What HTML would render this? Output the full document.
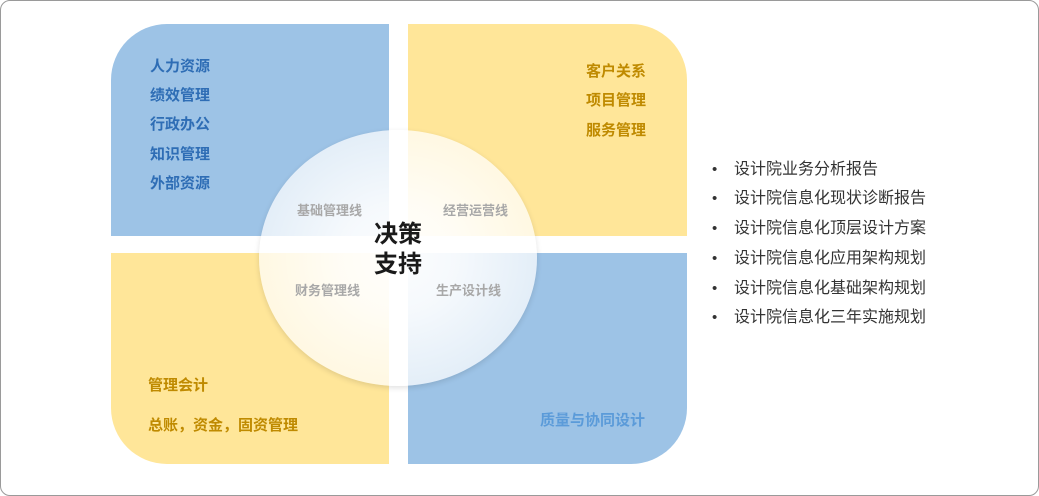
<!DOCTYPE html>
<html><head><meta charset="utf-8"><style>
body{margin:0;width:1039px;height:496px;background:#fff;overflow:hidden;font-family:"Liberation Sans","Noto Sans CJK SC",sans-serif;position:relative}
.frame{position:absolute;left:0;top:0;width:1037px;height:494px;border:1px solid #9a9a9a;border-radius:10px}
.q{position:absolute}
.t{position:absolute;font-weight:bold;font-size:15px;white-space:nowrap;line-height:18px}
.b{color:#2e6db5}.y{color:#bf8a00}
.c{position:absolute;color:#a8a8a8;font-size:13px;font-weight:bold;white-space:nowrap}
.li{position:absolute;left:712px;font-size:16px;color:#333;white-space:nowrap;line-height:18px}
.li span{display:inline-block;width:22px;font-size:15px}
</style></head><body>
<div class="frame"></div>
<div class="q" style="left:111px;top:24px;width:278px;height:212px;background:#9dc3e6;border-top-left-radius:56px"></div>
<div class="q" style="left:408px;top:24px;width:279px;height:212px;background:#ffe699;border-top-right-radius:56px"></div>
<div class="q" style="left:111px;top:253px;width:278px;height:211px;background:#ffe699;border-bottom-left-radius:56px"></div>
<div class="q" style="left:408px;top:253px;width:279px;height:211px;background:#9dc3e6;border-bottom-right-radius:56px"></div>
<div class="q" style="left:259px;top:130px;width:278px;height:256px;border-radius:50%;background:radial-gradient(ellipse at center,rgba(255,255,255,0.97) 0%,rgba(255,255,255,0.9) 30%,rgba(255,255,255,0.72) 70%,rgba(255,255,255,0.6) 100%);box-shadow:0 2px 6px rgba(0,0,0,0.12)"></div>
<div class="t b" style="left:150px;top:58px">人力资源</div>
<div class="t b" style="left:150px;top:87px">绩效管理</div>
<div class="t b" style="left:150px;top:116px">行政办公</div>
<div class="t b" style="left:150px;top:146px">知识管理</div>
<div class="t b" style="left:150px;top:175px">外部资源</div>
<div class="t y" style="left:586px;top:63px">客户关系</div>
<div class="t y" style="left:586px;top:92px">项目管理</div>
<div class="t y" style="left:586px;top:122px">服务管理</div>
<div class="t y" style="left:148px;top:377px">管理会计</div>
<div class="t y" style="left:148px;top:417px">总账，资金，固资管理</div>
<div class="t" style="left:540px;top:412px;color:#5b9bd9">质量与协同设计</div>
<div class="c" style="left:297px;top:200px">基础管理线</div>
<div class="c" style="left:443px;top:200px">经营运营线</div>
<div class="c" style="left:295px;top:280px">财务管理线</div>
<div class="c" style="left:436px;top:280px">生产设计线</div>
<div style="position:absolute;left:374px;top:220px;font-size:24px;font-weight:bold;line-height:30px;color:#1a1a1a">决策<br>支持</div>
<div class="li" style="top:161px"><span>•</span>设计院业务分析报告</div>
<div class="li" style="top:190px"><span>•</span>设计院信息化现状诊断报告</div>
<div class="li" style="top:220px"><span>•</span>设计院信息化顶层设计方案</div>
<div class="li" style="top:250px"><span>•</span>设计院信息化应用架构规划</div>
<div class="li" style="top:280px"><span>•</span>设计院信息化基础架构规划</div>
<div class="li" style="top:309px"><span>•</span>设计院信息化三年实施规划</div>
</body></html>
